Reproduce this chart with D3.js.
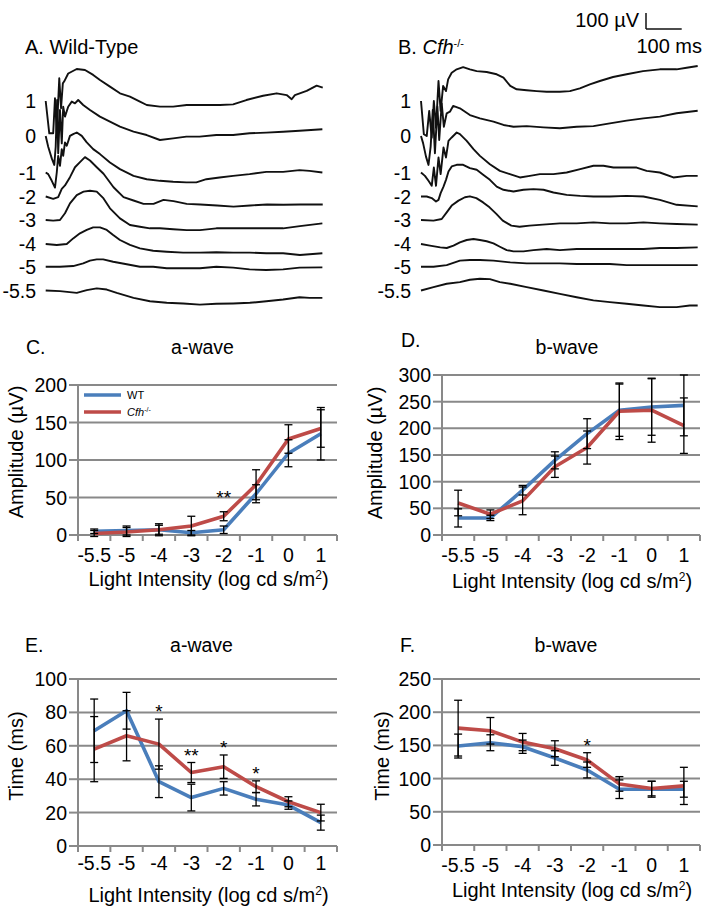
<!DOCTYPE html>
<html>
<head>
<meta charset="utf-8">
<script src="https://cdn.jsdelivr.net/npm/d3@7"></script>
<style>
  body { margin: 0; background: #fff; }
  text { font-family: "Liberation Sans", Arial, sans-serif; }
</style>
</head>
<body>
<div id="fig"></div>
<script>
// light intensities (log cd s/m2), category axis of panels C-F
var intensities = ["-5.5", "-5", "-4", "-3", "-2", "-1", "0", "1"]
// row labels of the ERG traces, top to bottom
var traceLabels = ["1", "0", "-1", "-2", "-3", "-4", "-5", "-5.5"]

// ERG traces: [time ms, amplitude µV] from the trace start
// Wild-type (panel A)
var wt_1 = [[0,0],[10,-202],[21,-202],[26,17],[31,-190],[38,142],[43,-45],[48,110],[52,123],[63,172],[87,200],[110,194],[133,163],[152,131],[180,90],[208,48],[236,27],[264,-4],[283,-25],[320,-35],[357,-35],[395,-25],[451,-25],[488,-25],[525,-21],[562,6],[609,33],[647,48],[675,37],[689,11],[698,37],[731,63],[759,96],[776,84]]
var wt_0 = [[0,0],[7,-67],[17,-140],[24,-181],[28,-67],[32,225],[35,-108],[40,163],[45,-46],[49,183],[54,121],[63,183],[73,215],[82,204],[91,225],[105,194],[124,163],[152,121],[180,90],[208,58],[246,27],[283,6],[320,-25],[357,-15],[394,-4],[431,-4],[478,6],[525,6],[571,17],[618,21],[665,27],[711,33],[775,42]]
var wt_m1 = [[0,0],[7,-10],[17,-52],[26,-94],[31,0],[35,104],[40,42],[45,146],[49,104],[54,188],[59,167],[68,229],[77,240],[87,250],[101,229],[115,188],[133,146],[152,115],[180,62],[208,21],[246,-21],[283,-42],[320,-52],[357,-58],[394,-62],[422,-62],[450,-42],[487,-31],[525,-21],[571,-10],[618,4],[665,4],[711,15],[739,10],[775,0]]
var wt_m2 = [[0,0],[21,-15],[35,-4],[45,48],[54,69],[68,121],[82,183],[96,215],[110,246],[124,225],[143,183],[162,142],[190,58],[218,-4],[246,-25],[274,-46],[302,-46],[330,-21],[358,-29],[395,-46],[433,-50],[480,-56],[526,-63],[573,-56],[620,-50],[666,-52],[713,-50],[776,-50]]
var wt_m3 = [[0,0],[21,-4],[40,0],[54,42],[68,104],[87,156],[106,177],[124,183],[143,177],[162,135],[180,73],[208,10],[236,-31],[264,-42],[292,-52],[320,-52],[357,-58],[395,-63],[432,-63],[478,-52],[525,-52],[572,-52],[618,-52],[665,-52],[712,-38],[775,-21]]
var wt_m4 = [[0,0],[31,-6],[59,0],[77,35],[96,67],[115,88],[133,104],[152,104],[171,88],[189,56],[208,25],[236,-6],[264,-27],[301,-42],[339,-48],[385,-54],[432,-54],[478,-52],[525,-54],[572,-54],[618,-58],[665,-58],[712,-69],[775,-58]]
var wt_m5 = [[0,0],[40,0],[77,4],[105,21],[124,38],[143,46],[161,46],[189,31],[227,15],[264,0],[301,0],[339,-10],[385,-10],[432,-10],[478,0],[525,-6],[571,-17],[618,-21],[665,-17],[711,-6],[775,-4]]
var wt_m55 = [[0,0],[40,-4],[87,-15],[115,2],[143,13],[171,6],[199,-15],[246,-46],[292,-67],[339,-77],[385,-81],[432,-88],[478,-83],[525,-81],[572,-77],[618,-67],[665,-56],[711,-42],[739,-46],[775,-46]]

// Cfh-/- (panel B)
var cfh_1 = [[0,0],[8,-208],[16,-219],[23,-62],[30,-229],[36,0],[42,-167],[49,125],[55,-62],[62,94],[70,62],[76,135],[86,177],[100,198],[118,212],[137,198],[156,187],[184,181],[212,167],[231,146],[250,94],[268,73],[296,67],[324,62],[352,58],[389,58],[417,62],[445,79],[473,104],[501,125],[538,150],[576,167],[622,187],[669,198],[716,198],[744,208],[775,219]]
var cfh_0 = [[0,0],[6,-46],[14,-129],[21,-181],[27,-67],[33,163],[39,-108],[46,183],[51,-25],[58,204],[64,58],[72,142],[81,152],[90,188],[109,173],[137,131],[165,110],[203,90],[231,69],[259,58],[296,62],[343,54],[389,48],[436,58],[483,62],[529,79],[576,96],[623,110],[669,121],[716,142],[775,158]]
var cfh_m1 = [[0,0],[11,-21],[21,-52],[30,-83],[36,31],[42,-83],[49,94],[55,-10],[63,156],[70,94],[77,198],[86,219],[100,250],[109,240],[128,198],[147,146],[165,104],[193,52],[221,10],[249,-10],[277,-31],[305,-21],[333,-10],[371,-10],[408,0],[446,21],[483,42],[511,42],[539,31],[576,31],[604,31],[632,10],[669,0],[707,-31],[744,-21],[775,-21]]
var cfh_m2 = [[0,0],[16,0],[30,-10],[42,-31],[49,-21],[55,21],[63,62],[70,104],[77,156],[86,188],[100,198],[118,198],[137,177],[156,167],[175,135],[193,104],[212,62],[231,42],[259,31],[287,42],[315,46],[343,42],[371,25],[408,10],[446,4],[483,0],[529,0],[576,4],[623,0],[669,-21],[716,-52],[775,-62]]
var cfh_m3 = [[0,0],[35,-4],[58,6],[72,48],[86,90],[105,121],[123,142],[137,148],[155,137],[174,110],[192,79],[211,38],[229,-4],[253,-35],[276,-42],[304,-35],[341,-29],[389,-21],[436,-21],[483,-15],[529,-21],[576,-21],[623,-15],[669,-21],[716,-25],[775,-29]]
var cfh_m4 = [[0,0],[25,-10],[54,-21],[72,-25],[91,-10],[109,10],[128,25],[147,31],[165,25],[184,17],[203,4],[221,-17],[240,-38],[259,-46],[287,-46],[315,-38],[352,-31],[389,-38],[436,-31],[483,-31],[529,-31],[576,-31],[623,-31],[669,-25],[716,-25],[775,-21]]
var cfh_m5 = [[0,0],[35,0],[72,10],[109,38],[137,42],[165,42],[203,38],[250,27],[296,21],[343,21],[389,21],[436,17],[483,17],[529,17],[576,10],[623,10],[669,10],[716,10],[775,10]]
var cfh_m55 = [[0,0],[35,21],[72,42],[109,52],[137,67],[165,73],[193,71],[221,52],[250,42],[296,21],[343,0],[389,-21],[436,-42],[483,-62],[529,-73],[576,-83],[623,-94],[669,-104],[716,-104],[753,-94],[775,-94]]

// C: a-wave amplitude (µV)
var wtAmpA = [5, 6, 7, 3, 7, 55, 109, 135]
var wtAmpAErr = [3, 6, 8, 3, 5, 12, 18, 35]
var cfhAmpA = [2, 4, 7, 12, 25, 67, 128, 142]
var cfhAmpAErr = [4, 6, 6, 13, 6, 20, 19, 25]
// D: b-wave amplitude (µV)
var wtAmpB = [32, 32, 84, 140, 190, 234, 240, 243]
var wtAmpBErr = [17, 5, 9, 16, 28, 49, 53, 57]
var cfhAmpB = [60, 39, 64, 128, 164, 232, 234, 205]
var cfhAmpBErr = [24, 8, 26, 20, 31, 53, 60, 52]
// E: a-wave implicit time (ms)
var wtTimeA = [69, 81, 38.5, 29, 34.5, 28, 24.5, 14]
var wtTimeAErr = [19, 11, 9.5, 8, 4, 4, 2.5, 4.5]
var cfhTimeA = [58, 66, 61, 44, 47.5, 35.5, 26.5, 20]
var cfhTimeAErr = [19.5, 15, 15, 6, 7, 3.5, 3, 5]
// F: b-wave implicit time (ms)
var wtTimeB = [149, 154, 148, 131, 113, 84, 84, 84]
var wtTimeBErr = [18, 12, 10, 11, 12, 14, 12, 12]
var cfhTimeB = [176, 172, 155, 145, 128, 92, 85, 89]
var cfhTimeBErr = [42, 20, 13, 12, 11, 11, 11, 28]

// significance marks: index into intensities
var sigC = [[4, "**"]]
var sigE = [[2, "*"], [3, "**"], [4, "*"], [5, "*"]]
var sigF = [[4, "*"]]

var blue = "#4a7ebb", red = "#be4b48", gridCol = "#898989"

var svg = d3.select("#fig").append("svg")
  .attr("width", 709)
  .attr("height", 911)

// ---------- ERG traces (A, B) ----------
// scale bar: 100 ms = 35.7 px, 100 µV = 16 px
var tScale = d3.scaleLinear().domain([0, 100]).range([0, 35.7])
var vScale = d3.scaleLinear().domain([0, 100]).range([0, -16])
var traceLine = d3.line().x(d => tScale(d[0])).y(d => vScale(d[1]))
var rowY = [101, 136, 172.5, 196.5, 220, 244, 266.7, 290.5]

function tracePanel(traces, x0, labelRight) {
  var g = svg.append("g")
  traces.forEach(function(tr, i) {
    g.append("path")
      .attr("transform", "translate(" + x0 + "," + rowY[i] + ")")
      .attr("d", traceLine(tr))
      .attr("fill", "none")
      .attr("stroke", "#111")
      .attr("stroke-width", 1.9)
      .attr("stroke-linejoin", "round")
    g.append("text")
      .attr("x", labelRight)
      .attr("y", rowY[i] + 7)
      .attr("text-anchor", "end")
      .style("font-size", "19.5px")
      .text(traceLabels[i])
  })
}
tracePanel([wt_1, wt_0, wt_m1, wt_m2, wt_m3, wt_m4, wt_m5, wt_m55], 45.7, 36)
tracePanel([cfh_1, cfh_0, cfh_m1, cfh_m2, cfh_m3, cfh_m4, cfh_m5, cfh_m55], 421, 411)

svg.append("text").attr("x", 25).attr("y", 54).style("font-size", "20px").text("A. Wild-Type")
var bt = svg.append("text").attr("x", 398).attr("y", 54).style("font-size", "20px")
bt.append("tspan").text("B. ")
bt.append("tspan").style("font-style", "italic").text("Cfh")
bt.append("tspan").attr("dy", -7).style("font-size", "11px").text("-/-")

// scale bar
var sb = svg.append("g").attr("transform", "translate(646,29)")
sb.append("line").attr("x1", 0).attr("x2", 0).attr("y1", 0).attr("y2", vScale(100))
  .attr("stroke", "#111").attr("stroke-width", 1.5)
sb.append("line").attr("x1", 0).attr("x2", tScale(100)).attr("y1", 0).attr("y2", 0)
  .attr("stroke", "#111").attr("stroke-width", 1.5)
svg.append("text").attr("x", 639).attr("y", 27).attr("text-anchor", "end")
  .style("font-size", "20px").text("100 µV")
svg.append("text").attr("x", 702).attr("y", 53).attr("text-anchor", "end")
  .style("font-size", "20px").text("100 ms")

// ---------- line charts (C-F) ----------
function chart(p) {
  var g = svg.append("g")
  var x = d3.scaleBand().domain(intensities).range([p.left, p.right])
  var y = d3.scaleLinear().domain([0, p.max]).range([p.bottom, p.top])
  var vals = d3.range(0, p.max + 0.001, p.step)
  var cx = d => x(d) + x.bandwidth() / 2

  // gridlines
  g.selectAll(".grid").data(vals.slice(1)).enter().append("line")
    .attr("x1", p.left).attr("x2", p.right)
    .attr("y1", d => y(d)).attr("y2", d => y(d))
    .attr("stroke", gridCol).attr("stroke-width", 2)
  // axes
  g.append("line").attr("x1", p.left).attr("x2", p.right)
    .attr("y1", y(0)).attr("y2", y(0)).attr("stroke", gridCol).attr("stroke-width", 2)
  g.append("line").attr("x1", p.left).attr("x2", p.left)
    .attr("y1", y(0) + 1).attr("y2", y(p.max) - 1).attr("stroke", gridCol).attr("stroke-width", 2)
  g.selectAll(".xt").data(d3.range(intensities.length + 1)).enter().append("line")
    .attr("x1", i => p.left + i * x.step()).attr("x2", i => p.left + i * x.step())
    .attr("y1", y(0)).attr("y2", y(0) + 6)
    .attr("stroke", gridCol).attr("stroke-width", 2)
  g.selectAll(".yt").data(vals).enter().append("line")
    .attr("x1", p.left - 9).attr("x2", p.left)
    .attr("y1", d => y(d)).attr("y2", d => y(d))
    .attr("stroke", gridCol).attr("stroke-width", 2)

  // tick labels
  g.selectAll(".xl").data(intensities).enter().append("text")
    .attr("x", cx).attr("y", y(0) + p.tickOff + 7)
    .attr("text-anchor", "middle").style("font-size", "19.5px")
    .text(d => d)
  g.selectAll(".yl").data(vals).enter().append("text")
    .attr("x", p.left - 11).attr("y", d => y(d) + 7)
    .attr("text-anchor", "end").style("font-size", "19.5px")
    .text(d => d)

  // titles
  g.append("text").attr("x", p.letterX).attr("y", p.letterY)
    .style("font-size", "19.5px").text(p.letter)
  g.append("text").attr("x", (p.left + p.right) / 2 + p.titleDx).attr("y", p.titleY)
    .attr("text-anchor", "middle").style("font-size", "19.5px").text(p.title)
  var xt = g.append("text").attr("x", (p.left + p.right) / 2 + 1).attr("y", y(0) + p.axisOff + 7)
    .attr("text-anchor", "middle").style("font-size", "20px")
  xt.append("tspan").text("Light Intensity (log cd s/m")
  xt.append("tspan").attr("dy", -7).style("font-size", "12px").text("2")
  xt.append("tspan").attr("dy", 7).text(")")
  g.append("text")
    .attr("transform", "translate(" + p.ylabX + "," + p.ylabY + ") rotate(-90)")
    .attr("text-anchor", "middle").style("font-size", "20px").text(p.ylabel)

  // series
  var line = d3.line().x((d, i) => cx(intensities[i])).y(d => y(d))
  var series = [[p.wt, p.wtErr, blue], [p.cfh, p.cfhErr, red]]
  series.forEach(function(s) {
    g.append("path").attr("d", line(s[0])).attr("fill", "none")
      .attr("stroke", s[2]).attr("stroke-width", 3.6).attr("stroke-linejoin", "round")
  })
  series.forEach(function(s) {
    var eb = g.append("g").attr("stroke", "#000").attr("stroke-width", 1.3)
    s[0].forEach(function(v, i) {
      var xc = cx(intensities[i])
      eb.append("line").attr("x1", xc).attr("x2", xc).attr("y1", y(v - s[1][i])).attr("y2", y(v + s[1][i]))
      eb.append("line").attr("x1", xc - 4).attr("x2", xc + 4).attr("y1", y(v - s[1][i])).attr("y2", y(v - s[1][i]))
      eb.append("line").attr("x1", xc - 4).attr("x2", xc + 4).attr("y1", y(v + s[1][i])).attr("y2", y(v + s[1][i]))
    })
  })

  // significance
  g.selectAll(".sig").data(p.sig).enter().append("text")
    .attr("x", d => cx(intensities[d[0]]))
    .attr("y", function(d) {
      var top = Math.max(p.wt[d[0]] + p.wtErr[d[0]], p.cfh[d[0]] + p.cfhErr[d[0]])
      return y(top) - 1 - p.sigGap
    })
    .attr("text-anchor", "middle").style("font-size", "19px")
    .text(d => d[1])

  if (p.legend) {
    var lg = g.append("g")
    lg.append("line").attr("x1", 84).attr("x2", 121).attr("y1", 395).attr("y2", 395)
      .attr("stroke", blue).attr("stroke-width", 3.6)
    lg.append("line").attr("x1", 84).attr("x2", 121).attr("y1", 412).attr("y2", 412)
      .attr("stroke", red).attr("stroke-width", 3.6)
    lg.append("text").attr("x", 127).attr("y", 399).style("font-size", "11px").text("WT")
    var lt = lg.append("text").attr("x", 127).attr("y", 416).style("font-size", "11px")
    lt.append("tspan").style("font-style", "italic").text("Cfh")
    lt.append("tspan").attr("dy", -4).style("font-size", "7px").text("-/-")
  }
}

chart({ left: 78, right: 337, top: 385, bottom: 535, max: 200, step: 50,
  wt: wtAmpA, wtErr: wtAmpAErr, cfh: cfhAmpA, cfhErr: cfhAmpAErr, sig: sigC, sigGap: 7,
  letter: "C.", letterX: 26, letterY: 354, title: "a-wave", titleDx: -5, titleY: 354,
  tickOff: 20, axisOff: 44, ylabel: "Amplitude (µV)", ylabX: 23, ylabY: 452, legend: true })
chart({ left: 442, right: 700, top: 375, bottom: 535, max: 300, step: 50,
  wt: wtAmpB, wtErr: wtAmpBErr, cfh: cfhAmpB, cfhErr: cfhAmpBErr, sig: [], sigGap: 0,
  letter: "D.", letterX: 401, letterY: 347, title: "b-wave", titleDx: -4, titleY: 354,
  tickOff: 20, axisOff: 46, ylabel: "Amplitude (µV)", ylabX: 382, ylabY: 453 })
chart({ left: 78, right: 337, top: 679, bottom: 846, max: 100, step: 20,
  wt: wtTimeA, wtErr: wtTimeAErr, cfh: cfhTimeA, cfhErr: cfhTimeAErr, sig: sigE, sigGap: 0,
  letter: "E.", letterX: 25, letterY: 652, title: "a-wave", titleDx: -6, titleY: 652,
  tickOff: 17, axisOff: 49, ylabel: "Time (ms)", ylabX: 23, ylabY: 756 })
chart({ left: 442, right: 700, top: 679, bottom: 845, max: 250, step: 50,
  wt: wtTimeB, wtErr: wtTimeBErr, cfh: cfhTimeB, cfhErr: cfhTimeBErr, sig: sigF, sigGap: 0,
  letter: "F.", letterX: 400, letterY: 652, title: "b-wave", titleDx: -5, titleY: 652,
  tickOff: 20, axisOff: 45, ylabel: "Time (ms)", ylabX: 389, ylabY: 756 })
</script>
</body>
</html>
